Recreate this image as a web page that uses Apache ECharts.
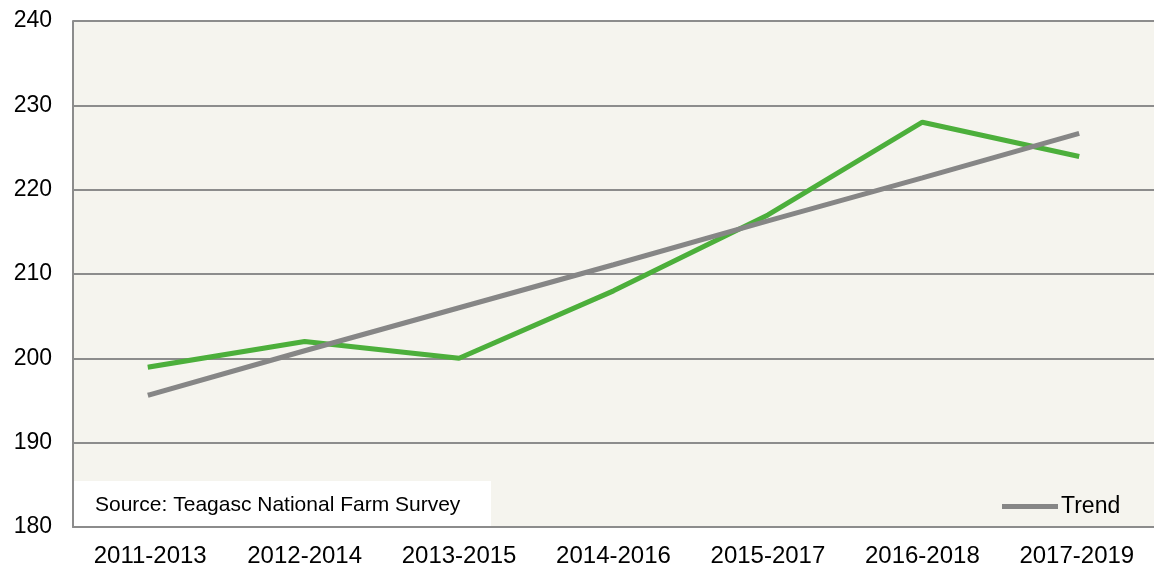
<!DOCTYPE html>
<html>
<head>
<meta charset="utf-8">
<script src="https://cdn.jsdelivr.net/npm/echarts@6/dist/echarts.min.js"></script>
<style>
  html, body { margin: 0; padding: 0; background: #fff; }
  #main { width: 1154px; height: 569px; }
</style>
</head>
<body>
<div id="main"></div>
<script>
  // data
  var periods = ["2011-2013", "2012-2014", "2013-2015", "2014-2016", "2015-2017", "2016-2018", "2017-2019"];
  var values = [199, 202, 200, 208, 217, 228, 224];
  var trend = [195.7, 200.9, 206.0, 211.1, 216.3, 221.4, 226.6];
  var yTicks = { min: 180, max: 240, step: 10 };

  var font = "Liberation Sans, Arial, sans-serif";
  var myChart = echarts.init(document.getElementById("main"));

  myChart.setOption({
    animation: false,
    textStyle: { fontFamily: font },
    grid: {
      left: 73,
      top: 21,
      width: 1082,
      height: 506,
      show: true,
      backgroundColor: "#F5F4EE",
      borderWidth: 0,
    },
    legend: {
      data: ["Trend"],
      left: 997,
      top: 490,
      icon: "rect",
      itemWidth: 56,
      itemHeight: 5,
      itemGap: 4,
      textStyle: { fontFamily: font, fontSize: 23, color: "#000", padding: [0, 0, 0, -2] },
    },
    xAxis: {
      type: "category",
      data: periods,
      boundaryGap: true,
      axisLine: { show: true, lineStyle: { color: "#8C8C8C", width: 2 } },
      axisTick: { show: false },
      axisLabel: { color: "#000", fontSize: 24, fontFamily: font, margin: 17 },
    },
    yAxis: {
      type: "value",
      min: yTicks.min,
      max: yTicks.max,
      interval: yTicks.step,
      axisLine: { show: true, lineStyle: { color: "#8C8C8C", width: 2 } },
      axisTick: { show: false },
      axisLabel: { color: "#000", fontSize: 23, fontFamily: font, margin: 21 },
      splitLine: { lineStyle: { color: "#8C8C8C", width: 2 } },
    },
    graphic: [
      {
        type: "rect",
        left: 74,
        top: 481,
        shape: { width: 417, height: 45 },
        style: { fill: "#FFFFFF" },
        z: 10,
      },
      {
        type: "text",
        left: 95,
        top: 495,
        style: { text: "Source: Teagasc National Farm Survey", fill: "#000", font: "21px " + font },
        z: 11,
      },
    ],
    series: [
      {
        name: "Value",
        type: "line",
        data: values,
        symbol: "none",
        lineStyle: { color: "#4CAF3B", width: 5, cap: "square" },
        itemStyle: { color: "#4CAF3B" },
      },
      {
        name: "Trend",
        type: "line",
        data: trend,
        symbol: "none",
        lineStyle: { color: "#868686", width: 5, cap: "square" },
        itemStyle: { color: "#868686" },
      },
    ],
  });
</script>
</body>
</html>
